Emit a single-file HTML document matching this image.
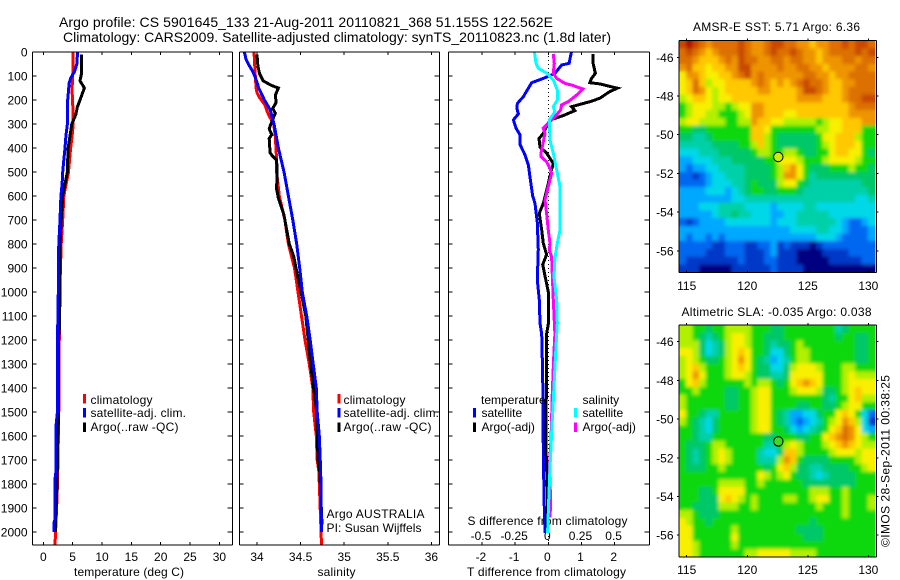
<!DOCTYPE html>
<html lang="en">
<head>
<meta charset="utf-8">
<title>Argo profile 5901645_133</title>
<style>
html,body{margin:0;padding:0;background:#fff;}
svg{display:block;}
text{font-family:"Liberation Sans",Arial,sans-serif;font-size:12px;fill:#000;}
</style>
</head>
<body>
<svg id="chart" xmlns="http://www.w3.org/2000/svg" width="900" height="580" viewBox="0 0 900 580">
<defs>
<filter id="soften" x="-5%" y="-5%" width="110%" height="110%"><feGaussianBlur stdDeviation="1.8"/></filter>
<clipPath id="sst-clip"><rect x="679.3" y="40.7" width="197" height="232"/></clipPath>
<clipPath id="sla-clip"><rect x="679.3" y="325.1" width="197" height="232"/></clipPath>
</defs>
<rect x="0" y="0" width="900" height="580" fill="#fff"/>
<text x="59" y="27" textLength="494" style="font-size:14px">Argo profile: CS 5901645_133 21-Aug-2011 20110821_368 51.155S 122.562E</text>
<text x="63" y="42" textLength="548" style="font-size:14px">Climatology: CARS2009. Satellite-adjusted climatology: synTS_20110823.nc (1.8d later)</text>
<text x="74" y="576" textLength="110">temperature (deg C)</text>
<text x="317.5" y="576" textLength="38">salinity</text>
<text x="467" y="576" textLength="159">T difference from climatology</text>
<text x="467.5" y="525" textLength="160">S difference from climatology</text>
<text x="326.5" y="518" textLength="98">Argo AUSTRALIA</text>
<text x="326.5" y="532" textLength="95">PI: Susan Wijffels</text>
<text x="693" y="31" textLength="167">AMSR-E SST: 5.71 Argo: 6.36</text>
<text x="681.5" y="316" textLength="190">Altimetric SLA: -0.035 Argo: 0.038</text>
<text transform="translate(889.5,547) rotate(-90)" x="0" y="0" textLength="172">©IMOS 28-Sep-2011 00:38:25</text>
<g id="marks"></g>
</svg>
<script>
const depthTicks = [0,100,200,300,400,500,600,700,800,900,1000,1100,1200,1300,1400,1500,1600,1700,1800,1900,2000];
const tempTicks = [0,5,10,15,20,25,30];
const salTicks = [34,34.5,35,35.5,36];
const salTickLabels = ['34','34.5','35','35.5','36'];
const tDiffTicks = [-2,-1,0,1,2];
const sDiffTicks = [-0.5,-0.25,0,0.25,0.5];
const sDiffTickLabels = ['-0.5','-0.25','0','0.25','0.5'];
const lonTicks = [115,120,125,130];
const latTicks = [-46,-48,-50,-52,-54,-56];

const tempClimDepth = [0,100,150,200,250,300,350,400,500,600,700,800,1000,1100,1460,1700,1850,2054];
const tempClimValue = [5.1,5.0,4.9,4.95,5.1,5.1,4.9,4.65,4.3,3.5,3.3,3.05,2.8,2.75,2.65,2.5,2.35,2.0];
const tempSatDepth = [0,50,80,110,130,200,300,350,400,450,500,550,600,700,750,850,1000,1150,1500,1550,1750,1780,1950,1960,2000];
const tempSatValue = [5.85,5.7,5.35,4.65,4.4,4.15,4.1,3.85,3.7,3.5,3.3,3.2,3,2.85,2.75,2.55,2.55,2.45,2.4,2.2,2.15,2,2,1.8,1.8];
const tempArgoDepth = [10,90,120,150,170,200,230,260,300,350,400,450,500,550,600,700,800,900,1000,1150,1200,1550,1600,1800,1960,2000];
const tempArgoValue = [6.5,6.5,6.25,7,6.7,6.25,5.8,5.55,4.85,4.55,4.25,4.15,4.1,3.7,3.3,3.05,2.85,2.85,2.85,2.75,2.55,2.55,2.45,2.35,2.1,2.1];

const salClimDepth = [0,100,150,170,190,220,260,300,350,450,500,600,700,800,900,1000,1100,1200,1300,1400,1500,1600,1700,1750,2054];
const salClimValue = [33.966,33.98,33.99,34,34.03,34.09,34.13,34.19,34.21,34.225,34.225,34.256,34.32,34.36,34.43,34.47,34.51,34.55,34.6,34.64,34.65,34.68,34.69,34.71,34.74];
const salSatDepth = [0,30,50,80,110,150,200,240,300,400,500,600,700,800,900,1000,1100,1200,1300,1400,1500,1600,1750,2000];
const salSatValue = [33.855,33.874,33.9,33.95,33.985,34.02,34.085,34.15,34.195,34.245,34.31,34.36,34.41,34.455,34.49,34.52,34.57,34.61,34.645,34.68,34.69,34.715,34.73,34.74];
const salArgoDepth = [10,60,90,120,140,150,180,210,235,255,290,320,345,360,420,430,450,500,570,610,680,800,850,900,1000,1100,1300,1500,1700,1750,1970];
const salArgoValue = [34.0,34.01,34.03,34.07,34.17,34.245,34.21,34.22,34.18,34.21,34.17,34.14,34.17,34.14,34.15,34.17,34.225,34.23,34.225,34.245,34.31,34.37,34.42,34.447,34.505,34.56,34.615,34.685,34.7,34.72,34.745];

const dTempSatDepth = [0,30,47,54,89,110,128,151,186,214,235,258,283,318,346,386,430,471,522,600,631,710,823,950,1033,1130,1175,1353,1651,1853,2004];
const dTempSatValue = [0.70,0.65,0.63,0.4,0.2,-0.15,-0.5,-0.6,-0.75,-0.93,-0.95,-0.9,-1.05,-0.97,-0.85,-0.85,-0.7,-0.6,-0.55,-0.47,-0.4,-0.33,-0.3,-0.33,-0.27,-0.25,-0.2,-0.17,-0.15,-0.13,-0.1];
const dTempArgoDepth = [8,47,89,110,128,133,151,165,193,207,228,244,265,283,311,339,361,396,421,465,490,547,631,672,742,797,844,886,1000,1133,1175,1650,1853,1980];
const dTempArgoValue = [1.34,1.35,1.42,1.3,1.25,1.55,2.08,1.85,1.55,1.25,0.7,0.8,0.45,0.05,-0.05,-0.15,-0.28,-0.25,-0.05,0.15,0.1,0,-0.15,-0.27,-0.2,-0.15,-0.05,-0.17,0,0,-0.05,-0.07,-0.02,-0.05,-0.07,-0.1];
const dSalSatDepth = [0,47,68,89,117,158,200,228,249,283,367,422,492,561,742,797,861,936,1033,1130,1175,1315,1453,1592,1731,1870,2004];
const dSalSatValue = [-0.105,-0.093,-0.075,-0.008,0.038,0.068,0.068,0.038,0.05,0.008,0.013,0.038,0.063,0.088,0.088,0.068,0.05,0.043,0.063,0.068,0.063,0.05,0.038,0.025,0.013,0.003,-0.005];
const dSalArgoDepth = [8,47,89,110,131,138,154,179,207,221,242,270,297,318,339,422,436,458,485,506,561,617,672,742,797,825,853,1033,1175,1245,1315,1453,1540,1635,1731,1870,1940];
const dSalArgoValue = [0.038,0.045,0.038,0.063,0.126,0.176,0.26,0.214,0.15,0.1,0.093,0.05,0,-0.038,-0.025,-0.055,-0.055,-0.013,0.013,0.025,0,-0.025,-0.013,0,0.013,0.008,0.025,0.038,0.05,0.043,0.038,0.028,0.025,0.018,0.008,0.018,0.013];

const colorLevels = ['#000080','#0038c8','#0068f0','#00a8ff','#00d8e8','#00d0a8','#00c868','#10d810','#b0f000','#f8f000','#ffc800','#ee9400','#dc7000','#c84800','#a81000'];

const sstGrid = [
[13,14,13,12,11,12,12,12,12,13,12,11,11,12,13,13,12,12,11,11,10,11,11,12,12,13,12,13,13,12],
[12,13,12,11,10,11,12,12,12,13,12,11,11,12,13,12,12,13,12,11,11,10,11,12,12,12,12,13,12,13],
[12,12,11,10,10,10,11,12,11,13,12,12,11,11,12,12,11,12,12,11,11,10,11,11,11,12,12,11,12,12],
[11,12,10,10,9,10,10,11,11,13,13,11,11,11,11,12,11,11,12,12,11,11,10,11,11,11,11,12,12,11],
[9,11,11,10,9,9,10,10,11,12,13,11,12,11,11,11,11,11,11,12,12,11,11,10,11,11,12,12,12,12],
[9,10,12,10,8,9,9,10,10,10,10,11,12,11,10,11,10,11,12,13,12,12,11,10,10,11,11,12,12,12],
[9,10,12,11,9,8,9,10,10,10,10,10,11,11,10,10,10,10,11,13,13,12,11,10,10,11,12,12,12,12],
[8,9,10,10,9,8,9,9,10,10,10,10,10,10,10,10,10,10,11,11,11,11,10,10,10,11,12,12,13,13],
[7,8,9,9,9,8,8,7,8,9,9,11,11,10,10,10,10,10,10,10,10,10,10,10,10,10,11,12,12,12],
[7,8,9,9,8,8,7,7,7,8,9,11,11,10,10,10,9,9,10,10,10,10,10,10,10,10,11,11,11,11],
[8,9,9,8,8,8,8,7,7,8,8,11,10,10,9,9,8,8,8,8,8,7,8,9,9,10,10,10,11,11],
[7,7,6,6,7,7,7,7,7,7,7,10,10,9,7,7,7,7,7,7,7,8,8,9,9,10,10,10,7,7],
[6,6,5,5,6,7,7,7,7,7,7,10,10,8,7,6,6,6,6,6,6,7,9,9,10,10,10,8,7,7],
[5,5,5,5,5,6,6,6,6,7,7,8,10,8,7,6,6,6,6,6,6,7,8,9,10,10,10,9,7,7],
[4,4,4,5,5,5,6,6,6,6,6,7,8,8,7,7,8,8,7,6,6,7,7,9,10,10,9,9,7,6],
[3,3,4,4,4,5,5,5,6,6,6,6,6,7,7,9,9,9,8,7,7,7,8,9,9,9,9,8,7,7],
[3,2,3,3,4,4,5,5,5,5,6,6,6,6,7,8,10,11,9,7,6,6,6,7,7,7,8,7,7,6],
[2,2,1,2,3,4,4,5,5,5,6,6,6,6,7,8,11,11,9,7,5,6,6,6,6,6,6,6,6,6],
[2,2,2,2,3,4,4,4,5,5,6,7,6,6,6,8,9,9,7,6,5,5,5,5,5,5,5,5,6,6],
[3,3,3,3,4,4,4,3,4,5,6,7,7,6,6,7,7,7,6,5,5,5,5,5,5,5,5,5,5,6],
[3,3,3,3,3,3,3,3,4,4,5,5,5,5,5,5,5,5,5,5,5,5,5,5,5,5,5,4,4,5],
[3,3,3,4,4,4,5,5,5,5,4,4,4,4,3,4,4,4,4,5,5,4,4,4,4,4,4,4,4,4],
[3,3,3,3,3,4,5,5,6,5,5,4,4,4,3,3,4,4,5,5,5,5,5,4,4,4,4,4,4,4],
[2,1,2,3,3,3,3,4,4,4,4,4,4,4,3,4,4,4,5,5,5,5,5,5,4,3,2,2,3,4],
[3,3,3,3,3,3,3,3,3,3,3,3,3,3,3,3,3,4,4,4,4,5,5,4,4,3,2,2,2,3],
[3,2,3,3,2,3,2,3,3,3,3,3,3,3,3,3,3,3,3,3,3,4,4,4,3,2,2,2,2,3],
[2,2,2,2,2,1,1,2,2,2,1,1,2,2,3,1,2,1,1,1,0,1,2,2,2,2,2,2,2,2],
[2,2,2,2,1,1,1,2,2,2,1,1,1,2,3,1,1,1,0,0,0,0,1,1,1,1,2,2,2,2],
[2,1,1,1,1,1,1,1,1,2,1,1,1,2,2,1,1,1,0,0,0,0,0,1,1,1,1,1,2,2],
[1,1,1,0,0,0,0,0,1,1,1,1,1,1,2,1,1,1,1,0,0,0,0,0,0,0,0,0,0,0]
];

const slaGrid = [
[8,8,7,7,6,7,7,8,8,8,8,7,7,7,6,6,7,7,7,7,7,7,7,7,5,6,7,7,7,7],
[8,8,7,6,5,6,7,8,9,9,8,7,7,6,6,6,7,7,7,7,7,7,7,7,6,7,7,6,6,7],
[8,8,8,6,4,5,6,8,9,9,8,7,7,6,5,6,6,7,8,7,7,7,7,7,7,7,7,6,6,7],
[9,9,8,6,4,5,6,8,9,10,9,7,7,6,4,4,6,7,8,8,7,7,7,7,7,7,7,6,6,7],
[8,9,8,7,6,6,7,8,9,11,9,7,6,5,3,4,5,7,8,8,7,7,7,7,7,7,7,6,6,7],
[8,9,10,8,7,7,7,8,9,10,9,7,6,6,4,4,6,8,9,9,9,8,7,7,7,8,8,7,7,7],
[8,9,11,9,7,7,7,8,9,9,8,7,6,6,5,5,6,9,9,9,9,9,7,7,7,8,9,8,8,8],
[7,9,10,8,7,7,7,7,7,7,8,7,8,8,7,6,7,9,10,11,10,9,7,7,7,8,9,9,9,9],
[7,7,8,7,7,7,7,6,6,7,7,8,9,9,7,7,7,8,9,9,9,8,6,6,7,8,9,10,9,9],
[8,7,7,7,7,7,7,6,6,7,7,8,9,9,7,7,7,7,7,7,7,7,6,5,7,7,9,10,8,8],
[8,7,7,7,7,7,7,6,6,7,7,8,9,9,7,7,7,7,6,6,7,7,6,6,7,8,9,9,7,7],
[9,7,7,6,5,5,7,7,7,7,7,8,9,9,7,6,5,3,3,4,4,6,7,7,9,10,9,7,4,2],
[8,7,6,5,4,6,7,7,7,7,7,8,9,9,7,6,5,3,2,3,4,5,7,8,9,11,10,8,4,1],
[7,7,6,5,4,6,7,7,7,7,7,8,9,9,7,7,6,4,3,4,5,6,7,9,10,12,11,9,4,3],
[7,7,6,5,5,7,7,7,7,7,7,7,7,6,6,7,7,7,6,6,7,7,9,10,11,12,11,9,8,7],
[7,6,6,6,7,8,8,7,7,7,7,7,7,5,5,7,8,9,8,7,7,7,8,9,10,11,10,9,8,8],
[7,6,5,6,7,8,9,8,7,7,7,7,5,4,4,6,10,10,8,7,7,7,7,8,9,9,9,8,9,9],
[7,6,5,6,7,8,9,8,7,7,7,7,5,5,5,8,11,10,7,6,6,6,6,7,7,7,7,8,9,9],
[7,6,6,6,7,7,8,7,7,7,7,7,7,6,7,9,10,8,6,6,5,5,6,6,6,6,7,7,8,9],
[7,7,7,7,7,7,7,7,7,7,7,7,9,8,7,8,9,7,6,6,5,4,5,6,6,6,6,7,7,7],
[7,7,7,7,7,7,8,8,8,8,7,7,8,7,7,7,7,7,7,6,6,6,6,6,6,6,6,7,7,7],
[7,7,7,6,6,7,9,9,9,9,7,7,7,7,7,7,7,7,7,7,8,8,8,7,7,8,7,7,7,7],
[7,7,7,6,6,6,9,10,9,8,7,8,7,7,7,7,8,8,7,7,8,9,9,7,7,8,7,7,7,8],
[7,7,6,6,6,6,8,8,8,7,7,8,7,7,7,7,7,7,7,7,7,8,7,7,7,8,7,7,7,8],
[8,8,7,6,6,6,7,7,7,7,7,7,7,7,7,7,7,7,7,7,7,7,7,7,7,8,7,7,7,7],
[9,8,7,7,6,7,7,7,7,7,7,7,7,7,7,7,7,7,7,7,6,7,7,7,7,7,7,7,7,7],
[9,9,7,7,7,7,7,7,8,7,7,7,7,7,7,7,7,7,6,6,6,6,7,7,7,7,7,7,7,7],
[9,9,7,7,7,7,7,7,9,7,7,7,7,7,7,7,7,7,7,6,6,6,7,7,7,7,7,7,7,7],
[9,9,8,7,7,7,7,7,8,7,7,7,7,7,7,7,7,7,7,7,7,7,7,7,7,7,7,7,7,7],
[9,9,8,7,7,7,7,7,7,7,8,8,9,9,9,9,9,8,8,8,8,7,7,7,7,7,7,7,7,7]
];

const profileLon = [122.562];
const profileLat = [-51.155];
const sstMarkerLevel = [8.4];
const slaMarkerLevel = [7.4];

const SVGNS = 'http://www.w3.org/2000/svg';
const root = document.getElementById('marks');

const yDepth = d => 52 + d * 0.24;
const xTemp = v => 43.3 + v * 5.87;
const xSal = v => 257 + (v - 34) * 87.2;
const xDT = v => 548.3 + v * 33.2;
const xDS = v => 548.3 + v * 132.7;
const xLon = v => 686.7 + (v - 115) * 12.11;
const yLatTop = v => 57.3 + (-46 - v) * 19.35;
const yLatBot = v => 341.7 + (-46 - v) * 19.35;

function drawLine(x1, y1, x2, y2, name) {
  const el = document.createElementNS(SVGNS, 'line');
  el.setAttribute('x1', x1);
  el.setAttribute('y1', y1);
  el.setAttribute('x2', x2);
  el.setAttribute('y2', y2);
  el.setAttribute('stroke', '#000');
  el.setAttribute('stroke-width', '1');
  el.setAttribute('shape-rendering', 'crispEdges');
  
  
  root.appendChild(el);
  return el;
}
function drawText(x, y, str, anchor, name, len) {
  const el = document.createElementNS(SVGNS, 'text');
  el.setAttribute('x', x);
  el.setAttribute('y', y);
  el.setAttribute('text-anchor', anchor);
  if (len) el.setAttribute('textLength', len);
  el.textContent = str;
  
  
  root.appendChild(el);
  return el;
}
function drawSeries(depths, values, xFn, color, name) {
  const el = document.createElementNS(SVGNS, 'polyline');
  const pts = depths.map((d, i) => xFn(values[i]).toFixed(1) + ',' + yDepth(d).toFixed(1));
  el.setAttribute('points', pts.join(' '));
  el.setAttribute('fill', 'none');
  el.setAttribute('stroke', color);
  el.setAttribute('stroke-width', '3');
  el.setAttribute('stroke-linejoin', 'miter');
  el.setAttribute('shape-rendering', 'crispEdges');
  
  
  root.appendChild(el);
}
function drawSwatch(x, y, color, name) {
  const el = document.createElementNS(SVGNS, 'rect');
  el.setAttribute('x', x);
  el.setAttribute('y', y);
  el.setAttribute('width', 3);
  el.setAttribute('height', 9.5);
  el.setAttribute('fill', color);
  el.setAttribute('shape-rendering', 'crispEdges');
  
  
  root.appendChild(el);
}
function drawFrame(l, t, r, b, prefix) {
  drawLine(l, t, r, t, prefix + '-frame-top');
  drawLine(l, b, r, b, prefix + '-frame-bottom');
  drawLine(l, t, l, b, prefix + '-frame-left');
  drawLine(r, t, r, b, prefix + '-frame-right');
}
function drawProfileTicks(l, r, xs, prefix) {
  depthTicks.forEach(d => {
    drawLine(l, yDepth(d), l + 4, yDepth(d), prefix + '-depth-tick');
    drawLine(r - 5, yDepth(d), r, yDepth(d), prefix + '-depth-tick');
  });
  xs.forEach(x => {
    drawLine(x, 52, x, 55, prefix + '-x-tick');
    drawLine(x, 542, x, 545, prefix + '-x-tick');
  });
}

/* profile panels */
drawProfileTicks(32.5, 232.5, tempTicks.map(xTemp), 'temperature-panel');
drawProfileTicks(239.5, 439.5, salTicks.map(xSal), 'salinity-panel');
drawProfileTicks(448.5, 649.5, tDiffTicks.map(xDT), 'difference-panel');

depthTicks.forEach(d => {
  drawText(27.5, yDepth(d) + 4.5, String(d), 'end', 'depth-tick-label');
});
tempTicks.forEach(v => {
  drawText(xTemp(v), 561, String(v), 'middle', 'temperature-tick-label');
});
salTicks.forEach((v, i) => {
  drawText(xSal(v), 561, salTickLabels[i], 'middle', 'salinity-tick-label');
});
tDiffTicks.forEach(v => {
  drawText(xDT(v) - 1, 561, String(v), 'middle', 't-difference-tick-label');
});
sDiffTicks.forEach((v, i) => {
  drawText(xDS(v) - 1, 540, sDiffTickLabels[i], 'middle', 's-difference-tick-label');
});

drawSeries(tempClimDepth, tempClimValue, xTemp, '#ff0000', 'temperature-climatology-line');
drawSeries(tempArgoDepth, tempArgoValue, xTemp, '#000000', 'temperature-argo-line');
drawSeries(tempSatDepth, tempSatValue, xTemp, '#0000ff', 'temperature-satellite-line');

drawSeries(salClimDepth, salClimValue, xSal, '#ff0000', 'salinity-climatology-line');
drawSeries(salArgoDepth, salArgoValue, xSal, '#000000', 'salinity-argo-line');
drawSeries(salSatDepth, salSatValue, xSal, '#0000ff', 'salinity-satellite-line');

const zeroLine = drawLine(xDT(0), 52, xDT(0), 545, 'zero-difference-line');
zeroLine.setAttribute('stroke-dasharray', '1 3');

drawSeries(dTempSatDepth, dTempSatValue, xDT, '#0000ff', 'difference-temperature-satellite-line');
drawSeries(dTempArgoDepth, dTempArgoValue, xDT, '#000000', 'difference-temperature-argo-line');
drawSeries(dSalArgoDepth, dSalArgoValue, xDS, '#ff00ff', 'difference-salinity-argo-line');
drawSeries(dSalSatDepth, dSalSatValue, xDS, '#00ffff', 'difference-salinity-satellite-line');

drawFrame(32.5, 52, 232.5, 545, 'temperature-panel');
drawFrame(239.5, 52, 439.5, 545, 'salinity-panel');
drawFrame(448.5, 52, 649.5, 545, 'difference-panel');

/* legends */
drawSwatch(83, 394, '#ff0000', 'legend-swatch-climatology');
drawSwatch(83, 408, '#0000ff', 'legend-swatch-satellite');
drawSwatch(83, 422.5, '#000000', 'legend-swatch-argo');
drawText(90.5, 404, 'climatology', 'start', 'legend-label-climatology', 62);
drawText(90.5, 417, 'satellite-adj. clim.', 'start', 'legend-label-satellite', 95.5);
drawText(90.5, 431, 'Argo(..raw -QC)', 'start', 'legend-label-argo', 88);

drawSwatch(337.5, 394, '#ff0000', 'salinity-legend-swatch-climatology');
drawSwatch(337.5, 408, '#0000ff', 'salinity-legend-swatch-satellite');
drawSwatch(337.5, 422.5, '#000000', 'salinity-legend-swatch-argo');
drawText(343.5, 404, 'climatology', 'start', 'salinity-legend-label-climatology', 62);
drawText(343.5, 417, 'satellite-adj. clim.', 'start', 'salinity-legend-label-satellite', 95.5);
drawText(343.5, 431, 'Argo(..raw -QC)', 'start', 'salinity-legend-label-argo', 88);

drawText(481, 404, 'temperature', 'start', 'difference-legend-temperature-heading');
drawText(481.5, 417, 'satellite', 'start', 'difference-legend-temperature-satellite');
drawText(481.5, 431, 'Argo(-adj)', 'start', 'difference-legend-temperature-argo');
drawSwatch(473, 408, '#0000ff', 'difference-legend-swatch-blue');
drawSwatch(473, 422.5, '#000000', 'difference-legend-swatch-black');
drawText(582.5, 404, 'salinity', 'start', 'difference-legend-salinity-heading');
drawText(582.5, 417, 'satellite', 'start', 'difference-legend-salinity-satellite');
drawText(582.5, 431, 'Argo(-adj)', 'start', 'difference-legend-salinity-argo');
drawSwatch(574, 408, '#00ffff', 'difference-legend-swatch-cyan');
drawSwatch(574, 422.5, '#ff00ff', 'difference-legend-swatch-magenta');

/* maps */
const lonMin = 114.39, lonMax = 130.5, latMax = -45.14, latMin = -57.1;
function levelColor(v) {
  const i = Math.max(0, Math.min(colorLevels.length - 1, Math.round(v)));
  return colorLevels[i];
}
function drawHeatmap(grid, yFn, name, groupId, clipId) {
  const group = document.createElementNS(SVGNS, 'g');
  group.setAttribute('id', groupId);
  
  
  root.appendChild(group);
  const rows = grid.length;
  grid.forEach((row, r) => {
    const cols = row.length;
    const lat0 = latMax + (latMin - latMax) * r / rows;
    const lat1 = latMax + (latMin - latMax) * (r + 1) / rows;
    row.forEach((v, c) => {
      const lon0 = lonMin + (lonMax - lonMin) * c / cols;
      const lon1 = lonMin + (lonMax - lonMin) * (c + 1) / cols;
      const el = document.createElementNS(SVGNS, 'rect');
      el.setAttribute('x', xLon(lon0).toFixed(2));
      el.setAttribute('y', yFn(lat0).toFixed(2));
      el.setAttribute('width', (xLon(lon1) - xLon(lon0) + 0.6).toFixed(2));
      el.setAttribute('height', (yFn(lat1) - yFn(lat0) + 0.6).toFixed(2));
      el.setAttribute('fill', levelColor(v));
      el.setAttribute('shape-rendering', 'crispEdges');
      
      
      group.appendChild(el);
    });
  });
  const soft = document.createElementNS(SVGNS, 'use');
  soft.setAttribute('href', '#' + groupId);
  soft.setAttribute('filter', 'url(#soften)');
  soft.setAttribute('clip-path', 'url(#' + clipId + ')');
  
  
  root.appendChild(soft);
}
function drawMapAxes(yFn, prefix, labelBase) {
  const l = xLon(lonMin) - 0.5, r = 876.5;
  const t = yFn(latMax), b = yFn(latMin) + 0.5;
  drawFrame(l, t, r, b, prefix);
  lonTicks.forEach(v => {
    drawLine(xLon(v), t - 2, xLon(v), t, prefix + '-lon-tick');
    drawLine(xLon(v), b - 2, xLon(v), b, prefix + '-lon-tick');
    drawText(xLon(v), labelBase, String(v), 'middle', prefix + '-lon-label');
  });
  latTicks.forEach(v => {
    drawLine(l - 2, yFn(v), l, yFn(v), prefix + '-lat-tick');
    drawLine(r, yFn(v), r + 2, yFn(v), prefix + '-lat-tick');
    drawText(673.5, yFn(v) + 4.5, String(v), 'end', prefix + '-lat-label');
  });
}
function drawProfileMarker(yFn, level, name) {
  const el = document.createElementNS(SVGNS, 'circle');
  el.setAttribute('cx', xLon(profileLon[0]).toFixed(1));
  el.setAttribute('cy', yFn(profileLat[0]).toFixed(1));
  el.setAttribute('r', 4.7);
  el.setAttribute('fill', level > 8 ? '#c8f000' : '#40d820');
  el.setAttribute('stroke', '#000');
  el.setAttribute('stroke-width', '1');
  
  
  root.appendChild(el);
}
drawHeatmap(sstGrid, yLatTop, 'sst-cell', 'sst-cells', 'sst-clip');
drawMapAxes(yLatTop, 'sst-map', 290);
drawProfileMarker(yLatTop, sstMarkerLevel[0], 'sst-profile-marker');
drawHeatmap(slaGrid, yLatBot, 'sla-cell', 'sla-cells', 'sla-clip');
drawMapAxes(yLatBot, 'sla-map', 574);
drawProfileMarker(yLatBot, slaMarkerLevel[0], 'sla-profile-marker');
</script>
</body>
</html>
